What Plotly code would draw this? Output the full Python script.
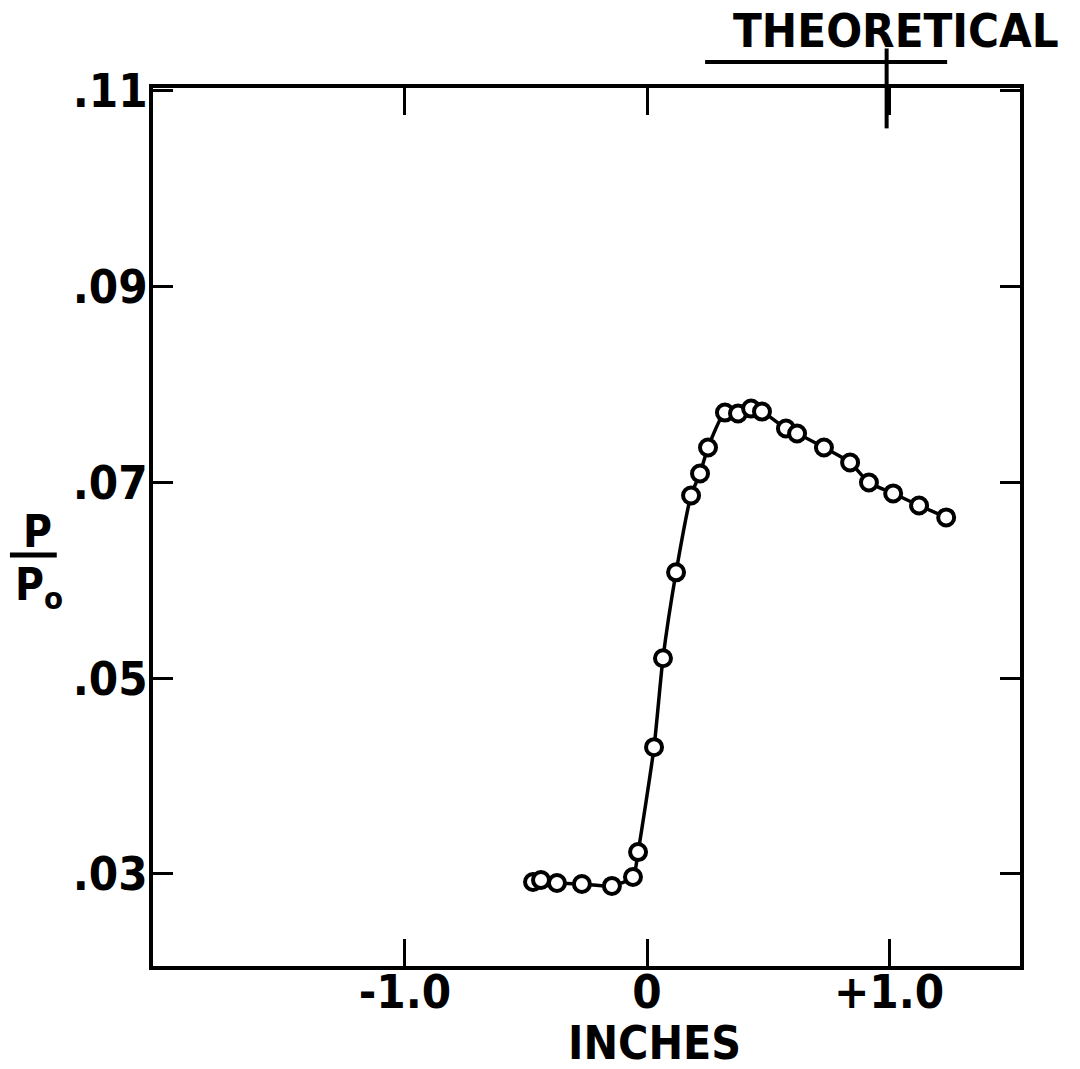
import plotly.graph_objects as go

# Measured data (inches, p/p0)
x_in = [-0.471, -0.438, -0.372, -0.269, -0.145, -0.058, -0.037, 0.029, 0.066, 0.120,
        0.182, 0.219, 0.252, 0.322, 0.376, 0.430, 0.475, 0.574, 0.620, 0.731,
        0.839, 0.917, 1.017, 1.124, 1.236]
p_ratio = [0.02918, 0.02939, 0.02908, 0.02898, 0.02878, 0.02969, 0.03224, 0.04296, 0.05204, 0.06082,
           0.06867, 0.07092, 0.07357, 0.07714, 0.07704, 0.07755, 0.07724, 0.07551, 0.07500, 0.07357,
           0.07204, 0.07000, 0.06888, 0.06765, 0.06643]

x_tickvals = [-1.0, 0.0, 1.0]
x_ticktext = ["-1.0", "0", "+1.0"]
y_tickvals = [0.03, 0.05, 0.07, 0.09, 0.11]
y_ticktext = [".03", ".05", ".07", ".09", ".11"]
theoretical_x = 0.99

FONT = "DejaVu Sans Condensed, DejaVu Sans, sans-serif"

fig = go.Figure()
fig.add_trace(go.Scatter(
    x=x_in, y=p_ratio, mode="lines+markers",
    line=dict(color="black", width=3.5, shape="spline", smoothing=0.6),
    marker=dict(symbol="circle", size=16, color="white",
                line=dict(color="black", width=4)),
    showlegend=False,
))

# theoretical marker: vertical line at +1.0 through the top frame and a bar under the label
fig.add_shape(type="line", xref="x", yref="paper", x0=theoretical_x, x1=theoretical_x,
              y0=0.954, y1=1.045, line=dict(color="black", width=4))
fig.add_shape(type="line", xref="x", yref="paper", x0=0.24, x1=1.24,
              y0=1.0296, y1=1.0296, line=dict(color="black", width=4))
fig.add_annotation(text="<b>THEORETICAL</b>", xref="paper", yref="paper",
                   x=1.047, y=1.065, xanchor="right", yanchor="middle", showarrow=False,
                   font=dict(family=FONT, size=47, color="black"))

# y axis label P / Po as a stacked fraction
fig.add_annotation(text="<b>P</b>", xref="paper", yref="paper", x=-0.133, y=0.463,
                   xanchor="center", yanchor="bottom", showarrow=False,
                   font=dict(family=FONT, size=44, color="black"))
fig.add_annotation(text="<b>P<sub>o</sub></b>", xref="paper", yref="paper", x=-0.131, y=0.466,
                   xanchor="center", yanchor="top", showarrow=False,
                   font=dict(family=FONT, size=44, color="black"))
fig.add_shape(type="line", xref="paper", yref="paper", x0=-0.165, x1=-0.111,
              y0=0.468, y1=0.468, line=dict(color="black", width=5))

# x axis title
fig.add_annotation(text="<b>INCHES</b>", xref="paper", yref="paper", x=0.579, y=-0.088,
                   xanchor="center", yanchor="middle", showarrow=False,
                   font=dict(family=FONT, size=46, color="black"))

fig.update_xaxes(
    range=[-2.041, 1.541], showgrid=False, zeroline=False, automargin=False,
    showline=True, linecolor="black", linewidth=4, mirror="ticks",
    ticks="inside", ticklen=27, tickwidth=3, tickcolor="black",
    tickvals=x_tickvals, ticktext=x_ticktext, ticklabelstandoff=-18,
    tickfont=dict(family=FONT, size=47, color="black", weight="bold"),
)
fig.update_yaxes(
    range=[0.0206, 0.1103], showgrid=False, zeroline=False, automargin=False,
    showline=True, linecolor="black", linewidth=4, mirror="ticks",
    ticks="inside", ticklen=20, tickwidth=3, tickcolor="black",
    tickvals=y_tickvals, ticktext=y_ticktext, ticklabelstandoff=-8,
    tickfont=dict(family=FONT, size=47, color="black", weight="bold"),
)
fig.update_layout(
    width=1080, height=1069,
    margin=dict(l=153, r=60, t=88, b=103),
    plot_bgcolor="white", paper_bgcolor="white",
)
fig.write_html("out.html")
